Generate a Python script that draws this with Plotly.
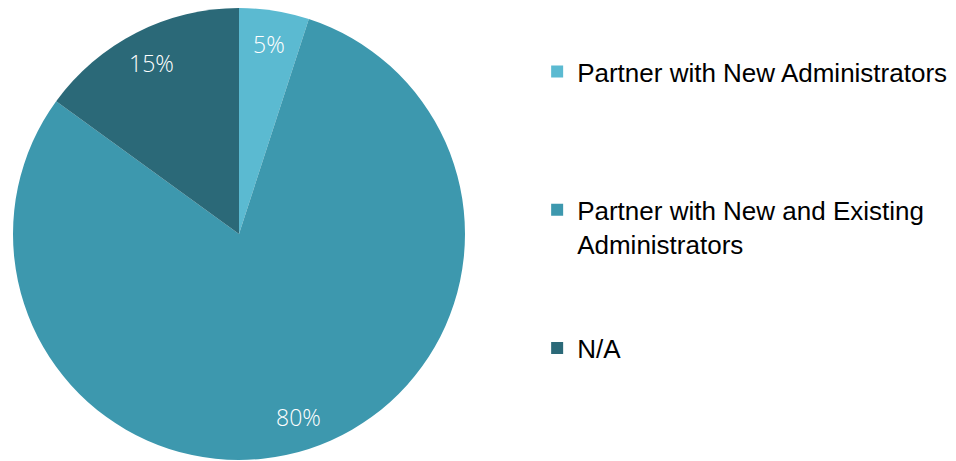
import math
import plotly.graph_objects as go

labels = ["Partner with New Administrators",
          "Partner with New and Existing<br>Administrators",
          "N/A"]
values = [5, 80, 15]
colors = ["#5BBAD1", "#3D98AE", "#2B6978"]
legend_pad = ["<br><br><br>", "<br><br>", ""]

W, H = 956, 461
# pie geometry in figure pixels (page has an 8px body margin)
cx_px, cy_px, r_px = 231, 226, 226
label_frac = 0.85

fig = go.Figure(go.Pie(
    labels=[l + p for l, p in zip(labels, legend_pad)],
    values=values,
    marker=dict(colors=colors, line=dict(width=0)),
    sort=False,
    direction="clockwise",
    rotation=0,
    textinfo="none",
    domain=dict(x=[(cx_px - r_px) / W, (cx_px + r_px) / W],
                y=[(H - (cy_px + r_px)) / H, 1 - (cy_px - r_px) / H]),
    hoverinfo="label+percent",
))

# percentage labels placed along each slice's bisector
total = sum(values)
cum = 0
for v in values:
    mid = (cum + v / 2) / total * 2 * math.pi
    cum += v
    fig.add_annotation(
        x=cx_px / W + label_frac * r_px * math.sin(mid) / W,
        y=(H - cy_px) / H + label_frac * r_px * math.cos(mid) / H,
        xref="paper", yref="paper",
        xanchor="center", yanchor="middle",
        text=f"{round(v / total * 100)}%",
        showarrow=False,
        font=dict(family="Open Sans", size=23, color="white", weight=300),
    )

fig.update_layout(
    width=W, height=H,
    margin=dict(l=0, r=0, t=0, b=0),
    paper_bgcolor="white",
    plot_bgcolor="white",
    showlegend=True,
    legend=dict(
        x=0.5535, y=0.913, xanchor="left", yanchor="top",
        font=dict(family="Liberation Sans, Arial", size=26, color="black"),
        valign="top",
        itemclick=False,
    ),
)

fig.write_html("out.html")
